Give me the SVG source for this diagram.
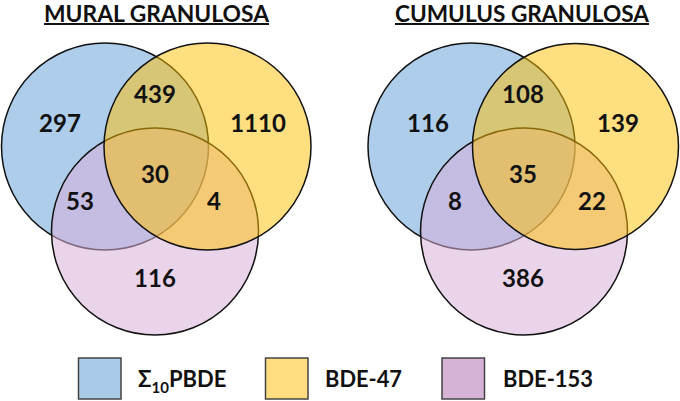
<svg xmlns="http://www.w3.org/2000/svg" width="680" height="401" viewBox="0 0 680 401">
<style>
.t{font-family:Lato,"Open Sans","Liberation Sans",sans-serif;font-weight:bold;fill:#111;}
.n{font-size:24px;text-anchor:middle;}
.ti{font-size:22px;text-anchor:middle;}
.lg{font-size:22px;}
.c{stroke:#111;stroke-width:1.5;}
.b{fill:rgb(91,155,213);fill-opacity:0.5;}
.p{fill:rgb(216,176,216);fill-opacity:0.55;}
.y{fill:rgb(255,192,0);fill-opacity:0.5;}
.box{stroke:#444;stroke-width:1.5;}
</style>
<rect width="680" height="401" fill="#fff"/>
<g id="mural">
<text class="t ti" x="156.5" y="22" textLength="225" lengthAdjust="spacingAndGlyphs">MURAL GRANULOSA</text>
<rect x="44" y="23" width="225" height="2" fill="#111"/>
<circle class="c b" cx="105" cy="146.5" r="103.5"/>
<circle class="c p" cx="155" cy="231.5" r="103.5"/>
<circle class="c y" cx="207.5" cy="146.5" r="103.5"/>
<text class="t n" x="60" y="132">297</text>
<text class="t n" x="155" y="103">439</text>
<text class="t n" x="258" y="132">1110</text>
<text class="t n" x="155" y="183">30</text>
<text class="t n" x="80" y="210">53</text>
<text class="t n" x="214" y="210">4</text>
<text class="t n" x="155" y="287">116</text>
</g>
<g id="cumulus">
<text class="t ti" x="522" y="22" textLength="254" lengthAdjust="spacingAndGlyphs">CUMULUS GRANULOSA</text>
<rect x="395" y="23" width="254" height="2" fill="#111"/>
<circle class="c b" cx="471.5" cy="146.5" r="103.5"/>
<circle class="c p" cx="524" cy="231.5" r="103.5"/>
<circle class="c y" cx="575.5" cy="146.5" r="103"/>
<text class="t n" x="428" y="132">116</text>
<text class="t n" x="523" y="103">108</text>
<text class="t n" x="618" y="132">139</text>
<text class="t n" x="523" y="183">35</text>
<text class="t n" x="455" y="210">8</text>
<text class="t n" x="592" y="210">22</text>
<text class="t n" x="523" y="287">386</text>
</g>
<g id="legend">
<rect class="box" x="78.5" y="358" width="42.5" height="41" fill="#a9cbe8"/>
<text class="t lg" x="138" y="387">Σ<tspan font-size="15" dy="6">10</tspan><tspan dy="-6">PBDE</tspan></text>
<rect class="box" x="265.5" y="358" width="42.5" height="41" fill="#ffdc80"/>
<text class="t lg" x="325" y="387" textLength="77" lengthAdjust="spacingAndGlyphs">BDE-47</text>
<rect class="box" x="442" y="358" width="42.5" height="41" fill="#d5b3d6"/>
<text class="t lg" x="503" y="387" textLength="90" lengthAdjust="spacingAndGlyphs">BDE-153</text>
</g>
<g id="connectors"/>
</svg>
